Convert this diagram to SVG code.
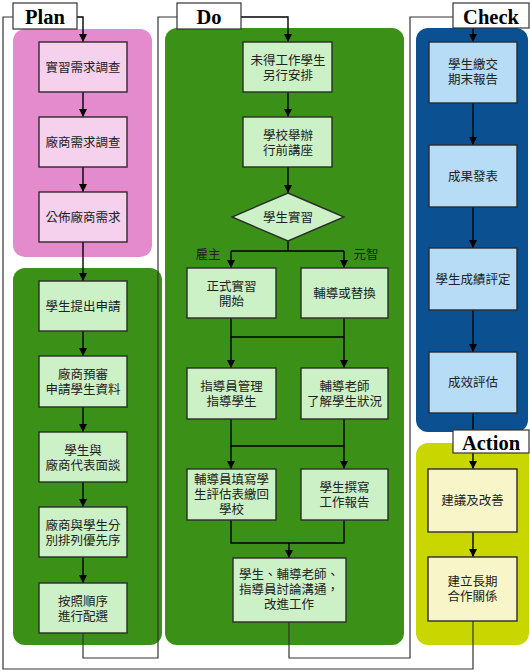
<svg xmlns="http://www.w3.org/2000/svg" width="530" height="672" viewBox="0 0 530 672">
<defs>
<marker id="ah" markerUnits="userSpaceOnUse" markerWidth="9" markerHeight="9" refX="8" refY="4" orient="auto"><path d="M0,0 L8,4 L0,8 z" fill="#000"/></marker>
<style>
.n{stroke:#2b2b2b;stroke-width:1.4}
.pk{fill:#f6d1ee}.gr{fill:#cdf1c7}.bl{fill:#b6dcf6}.yl{fill:#f8f5c8}
.t{font-family:"Liberation Sans","Noto Sans CJK TC","Noto Sans CJK SC",sans-serif;font-size:12.5px;fill:#222;text-anchor:middle}
.h{font-family:"Liberation Serif",serif;font-weight:bold;font-size:20.5px;fill:#000;text-anchor:middle}
.hb{fill:#fff;stroke:#333;stroke-width:1.2}
.c{fill:none;stroke:#000;stroke-width:1.4}
.ca{fill:none;stroke:#000;stroke-width:1.4;marker-end:url(#ah)}
.o{fill:none;stroke:#333;stroke-width:1.2}
</style>
</defs>
<rect width="530" height="672" fill="#fff"/>
<g id="panels">
<rect x="13" y="29" width="139" height="228" rx="12" fill="#e38bcc"/>
<rect x="13" y="268" width="149" height="377" rx="12" fill="#3b9118"/>
<rect x="165" y="28" width="239" height="617" rx="12" fill="#3b9118"/>
<rect x="416" y="28" width="112" height="404" rx="12" fill="#0b5191"/>
<rect x="416" y="443" width="113" height="202" rx="12" fill="#cad600"/>
</g>
<g id="connectors">
<polyline class="o" points="473,621 473,669 3,669 3,17 13,17"/>
<polyline class="o" points="83,633 83,658 158,658 158,17 177,17"/>
<polyline class="o" points="289,622 289,658 410,658 410,17 453,17"/>
<polyline class="ca" points="77,17 83,17 83,42"/>
<polyline class="ca" points="241,17 288,17 288,42"/>
<line class="ca" x1="473" y1="28" x2="473" y2="42"/>
<line class="ca" x1="83" y1="92" x2="83" y2="117"/>
<line class="ca" x1="83" y1="167" x2="83" y2="192"/>
<line class="ca" x1="83" y1="242" x2="83" y2="281"/>
<line class="ca" x1="83" y1="331" x2="83" y2="356"/>
<line class="ca" x1="83" y1="407" x2="83" y2="432"/>
<line class="ca" x1="83" y1="482" x2="83" y2="507"/>
<line class="ca" x1="83" y1="557" x2="83" y2="583"/>
<line class="ca" x1="288" y1="92" x2="288" y2="117"/>
<line class="ca" x1="288" y1="167" x2="288" y2="193"/>
<polyline class="c" points="288,241 288,251"/>
<polyline class="c" points="231,251 344,251"/>
<line class="ca" x1="231" y1="251" x2="231" y2="268"/>
<line class="ca" x1="344" y1="251" x2="344" y2="268"/>
<polyline class="c" points="231,318 231,337 344,337 344,318"/>
<line class="ca" x1="231" y1="337" x2="231" y2="368"/>
<line class="ca" x1="344" y1="337" x2="344" y2="368"/>
<polyline class="c" points="231,419 231,446 344,446 344,419"/>
<line class="ca" x1="231" y1="446" x2="231" y2="469"/>
<line class="ca" x1="344" y1="446" x2="344" y2="469"/>
<polyline class="c" points="231,520 231,543 344,543 344,520"/>
<line class="ca" x1="289" y1="543" x2="289" y2="558"/>
<line class="ca" x1="473" y1="103" x2="473" y2="145"/>
<line class="ca" x1="473" y1="207" x2="473" y2="248"/>
<line class="ca" x1="473" y1="310" x2="473" y2="352"/>
<line class="c" x1="473" y1="413" x2="473" y2="430"/>
<line class="ca" x1="473" y1="453" x2="473" y2="469"/>
<line class="ca" x1="473" y1="532" x2="473" y2="557"/>
<text class="t" x="208" y="259">雇主</text>
<text class="t" x="366" y="259">元智</text>
</g>
<g id="hdr-plan"><rect class="hb" x="13" y="3" width="64" height="26"/><text class="h" x="45" y="24">Plan</text></g>
<g id="hdr-do"><rect class="hb" x="177" y="3" width="64" height="26"/><text class="h" x="209" y="24">Do</text></g>
<g id="hdr-check"><rect class="hb" x="453" y="3" width="76" height="25"/><text class="h" x="491" y="24">Check</text></g>
<g id="hdr-action"><rect class="hb" x="453" y="430" width="76" height="23"/><text class="h" x="491" y="450">Action</text></g>
<g id="p1"><rect class="n pk" x="39" y="42" width="88" height="50"/><text class="t" x="83" y="71.5">實習需求調查</text></g>
<g id="p2"><rect class="n pk" x="39" y="117" width="88" height="50"/><text class="t" x="83" y="146.5">廠商需求調查</text></g>
<g id="p3"><rect class="n pk" x="39" y="192" width="88" height="50"/><text class="t" x="83" y="221.5">公佈廠商需求</text></g>
<g id="p4"><rect class="n gr" x="39" y="281" width="88" height="50"/><text class="t" x="83" y="310.5">學生提出申請</text></g>
<g id="p5"><rect class="n gr" x="39" y="356" width="88" height="51"/><text class="t" x="83" y="379">廠商預審<tspan x="83" dy="15">申請學生資料</tspan></text></g>
<g id="p6"><rect class="n gr" x="39" y="432" width="88" height="50"/><text class="t" x="83" y="455">學生與<tspan x="83" dy="15">廠商代表面談</tspan></text></g>
<g id="p7"><rect class="n gr" x="39" y="507" width="88" height="50"/><text class="t" x="83" y="530">廠商與學生分<tspan x="83" dy="15">別排列優先序</tspan></text></g>
<g id="p8"><rect class="n gr" x="39" y="583" width="88" height="50"/><text class="t" x="83" y="606">按照順序<tspan x="83" dy="15">進行配選</tspan></text></g>
<g id="d1"><rect class="n gr" x="243" y="42" width="89" height="50"/><text class="t" x="288" y="65">未得工作學生<tspan x="288" dy="15">另行安排</tspan></text></g>
<g id="d2"><rect class="n gr" x="243" y="117" width="89" height="50"/><text class="t" x="288" y="140">學校舉辦<tspan x="288" dy="15">行前講座</tspan></text></g>
<g id="d3"><polygon class="n gr" points="288,193 344,217 288,241 232,217"/><text class="t" x="288" y="221.5">學生實習</text></g>
<g id="d4"><rect class="n gr" x="187" y="268" width="89" height="50"/><text class="t" x="231.5" y="291">正式實習<tspan x="231.5" dy="15">開始</tspan></text></g>
<g id="d5"><rect class="n gr" x="301" y="268" width="87" height="50"/><text class="t" x="344.5" y="297.5">輔導或替換</text></g>
<g id="d6"><rect class="n gr" x="187" y="368" width="89" height="51"/><text class="t" x="231.5" y="391">指導員管理<tspan x="231.5" dy="15">指導學生</tspan></text></g>
<g id="d7"><rect class="n gr" x="301" y="368" width="87" height="51"/><text class="t" x="344.5" y="391">輔導老師<tspan x="344.5" dy="15">了解學生狀況</tspan></text></g>
<g id="d8"><rect class="n gr" x="187" y="469" width="89" height="51"/><text class="t" x="231.5" y="484">輔導員填寫學<tspan x="231.5" dy="15">生評估表繳回</tspan><tspan x="231.5" dy="15">學校</tspan></text></g>
<g id="d9"><rect class="n gr" x="301" y="469" width="87" height="51"/><text class="t" x="344.5" y="492">學生撰寫<tspan x="344.5" dy="15">工作報告</tspan></text></g>
<g id="d10"><rect class="n gr" x="233" y="558" width="113" height="64"/><text class="t" x="289" y="579">學生、輔導老師、<tspan x="289" dy="15">指導員討論溝通，</tspan><tspan x="289" dy="15">改進工作</tspan></text></g>
<g id="c1"><rect class="n bl" x="429" y="42" width="88" height="61"/><text class="t" x="473" y="69">學生繳交<tspan x="473" dy="15">期末報告</tspan></text></g>
<g id="c2"><rect class="n bl" x="429" y="145" width="88" height="62"/><text class="t" x="473" y="180.5">成果發表</text></g>
<g id="c3"><rect class="n bl" x="429" y="248" width="88" height="62"/><text class="t" x="473" y="283.5">學生成績評定</text></g>
<g id="c4"><rect class="n bl" x="429" y="352" width="88" height="61"/><text class="t" x="473" y="387">成效評估</text></g>
<g id="a1"><rect class="n yl" x="428" y="469" width="89" height="63"/><text class="t" x="472.5" y="505">建議及改善</text></g>
<g id="a2"><rect class="n yl" x="428" y="557" width="89" height="64"/><text class="t" x="472.5" y="586">建立長期<tspan x="472.5" dy="15">合作關係</tspan></text></g>
</svg>
